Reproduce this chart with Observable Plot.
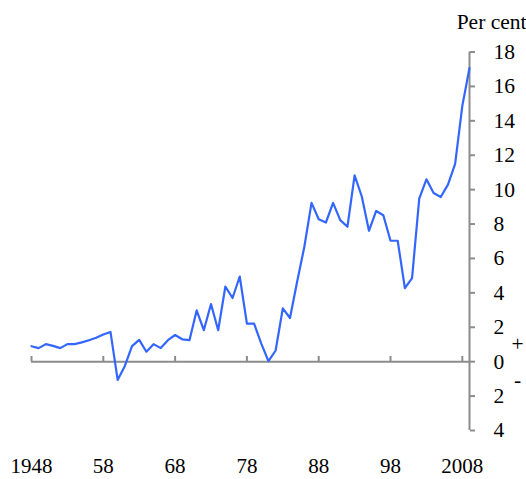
<!DOCTYPE html>
<html>
<head>
<meta charset="utf-8">
<script src="https://cdn.jsdelivr.net/npm/d3@7"></script>
<script src="https://cdn.jsdelivr.net/npm/@observablehq/plot@0.6"></script>
<style>
  html, body { margin: 0; padding: 0; background: #fff; }
  #chart { width: 526px; height: 479px; }
</style>
</head>
<body>
<div id="chart"></div>
<script>
const years = d3.range(1948, 2010);
const values = [
  0.90, 0.79, 1.02, 0.92, 0.79, 1.02, 1.02, 1.12, 1.25, 1.39,
  1.58, 1.73, -1.06, -0.25, 0.90, 1.27, 0.58, 1.02, 0.79, 1.25,
  1.55, 1.30, 1.25, 2.98, 1.83, 3.35, 1.83, 4.37, 3.70, 4.95,
  2.21, 2.21, 1.05, 0.03, 0.65, 3.10, 2.54, 4.66, 6.68, 9.23,
  8.28, 8.09, 9.23, 8.23, 7.84, 10.83, 9.60, 7.61, 8.76, 8.51,
  7.03, 7.03, 4.28, 4.86, 9.48, 10.60, 9.80, 9.57, 10.29, 11.50,
  14.87, 17.07
];
const xTicks = [1948, 1958, 1968, 1978, 1988, 1998, 2008];
const xTickLabels = ["1948", "58", "68", "78", "88", "98", "2008"];
const yTicks = [-4, -2, 0, 2, 4, 6, 8, 10, 12, 14, 16, 18];
const unitLabel = "Per cent";
const signLabels = [{s: "+", v: 1.0}, {s: "-", v: -1.1}];

const data = years.map((y, i) => ({year: y, value: values[i]}));
const axisColor = "#8c8c8c";
const xMin = 1948, xMax = 2009, yMin = -4, yMax = 18;
const xTickLen = 0.3; // tick length in y units (~5px)
const fs = 21.5;

const chart = Plot.plot({
  width: 526,
  height: 479,
  marginLeft: 31,
  marginRight: 57,
  marginTop: 51.5,
  marginBottom: 49,
  style: {fontFamily: "'Liberation Serif', 'Times New Roman', serif", background: "#fff", color: "#000"},
  x: {type: "linear", domain: [xMin, xMax], label: null},
  y: {type: "linear", domain: [yMin, yMax], label: null},
  marks: [
    Plot.ruleY([0], {x1: xMin, x2: xMax, stroke: axisColor, strokeWidth: 2}),
    Plot.ruleX(xTicks, {x: d => d, y1: 0, y2: xTickLen, stroke: axisColor, strokeWidth: 2}),
    Plot.axisX({ticks: xTicks, tickFormat: (d) => xTickLabels[xTicks.indexOf(d)], tickSize: 0, tickPadding: 28, fontSize: 21, fill: "#000"}),
    Plot.ruleX([xMax], {y1: yMin, y2: yMax, stroke: axisColor, strokeWidth: 2}),
    Plot.axisY({anchor: "right", ticks: yTicks, tickFormat: d => Math.abs(d), tickSize: 5, tickPadding: 19, stroke: axisColor, strokeWidth: 2, fontSize: fs, fill: "#000"}),
    Plot.line(data, {x: "year", y: "value", stroke: "#3366ff", strokeWidth: 2.2}),
    Plot.text([unitLabel], {x: () => xMax, y: () => yMax, text: d => d, dx: 57, dy: -23, textAnchor: "end", lineAnchor: "bottom", fontSize: fs, fill: "#000"}),
    Plot.text(signLabels, {x: () => xMax, y: "v", text: "s", dx: 48, fontSize: fs, fill: "#000"})
  ]
});
document.getElementById("chart").appendChild(chart);
</script>
</body>
</html>
